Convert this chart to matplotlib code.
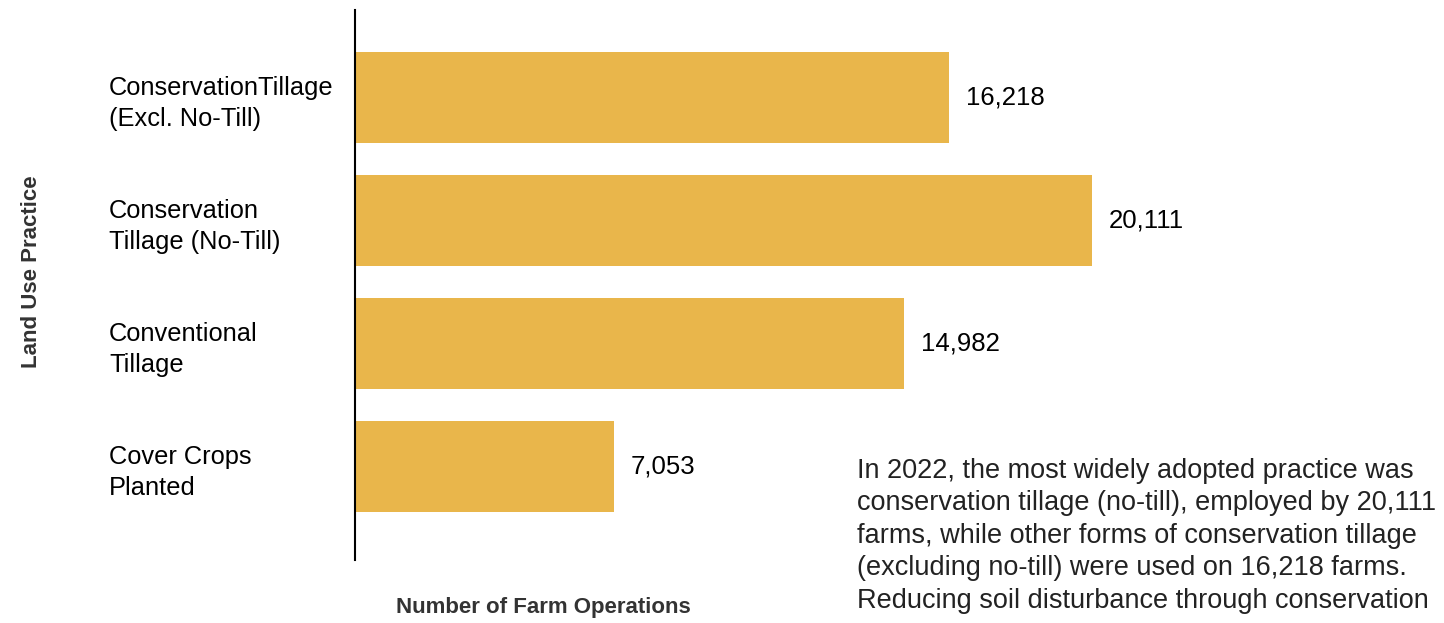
import matplotlib.pyplot as plt

plt.rcParams['font.family'] = ['Liberation Sans', 'DejaVu Sans']

practices = ["ConservationTillage\n(Excl. No-Till)",
             "Conservation\nTillage (No-Till)",
             "Conventional\nTillage",
             "Cover Crops\nPlanted"]
farms = [16218, 20111, 14982, 7053]

note = ("In 2022, the most widely adopted practice was\n"
        "conservation tillage (no-till), employed by 20,111\n"
        "farms, while other forms of conservation tillage\n"
        "(excluding no-till) were used on 16,218 farms.\n"
        "Reducing soil disturbance through conservation")

fig = plt.figure(figsize=(14.44, 6.23), dpi=100)
ax = fig.add_axes([355 / 1444, 63 / 623, 876 / 1444, 550 / 623])

pos = range(len(farms))
ax.barh(pos, farms, height=0.74, color="#E9B64B")
for i, v in enumerate(farms):
    ax.annotate(f"{v:,}", (v, i), xytext=(12, 0), textcoords="offset points",
                va="center", ha="left", fontsize=18.5, color="black")

ax.set_xlim(0, 23900)
ax.set_ylim(3.76, -0.71)
ax.set_yticks(list(pos))
ax.set_yticklabels(practices, fontsize=18.3, color="black", linespacing=1.37)
for lbl in ax.get_yticklabels():
    lbl.set_horizontalalignment("left")
ax.tick_params(axis="y", length=0, pad=177)
ax.set_xticks([])
for side in ["top", "right", "bottom"]:
    ax.spines[side].set_visible(False)
ax.spines["left"].set_linewidth(1.5)

fig.text(32 / 1444, 1 - 272 / 623, "Land Use Practice", rotation=90, ha="center",
         va="center", fontsize=16, fontweight="bold", color="#333333")
fig.text(543 / 1444, 1 - 607 / 623, "Number of Farm Operations", ha="center",
         va="center", fontsize=16, fontweight="bold", color="#333333")
fig.text(857 / 1444, 1 - 458 / 623, note, ha="left", va="top", fontsize=19.5,
         color="#222222", linespacing=1.32)

fig.savefig("out.png", dpi=100)
